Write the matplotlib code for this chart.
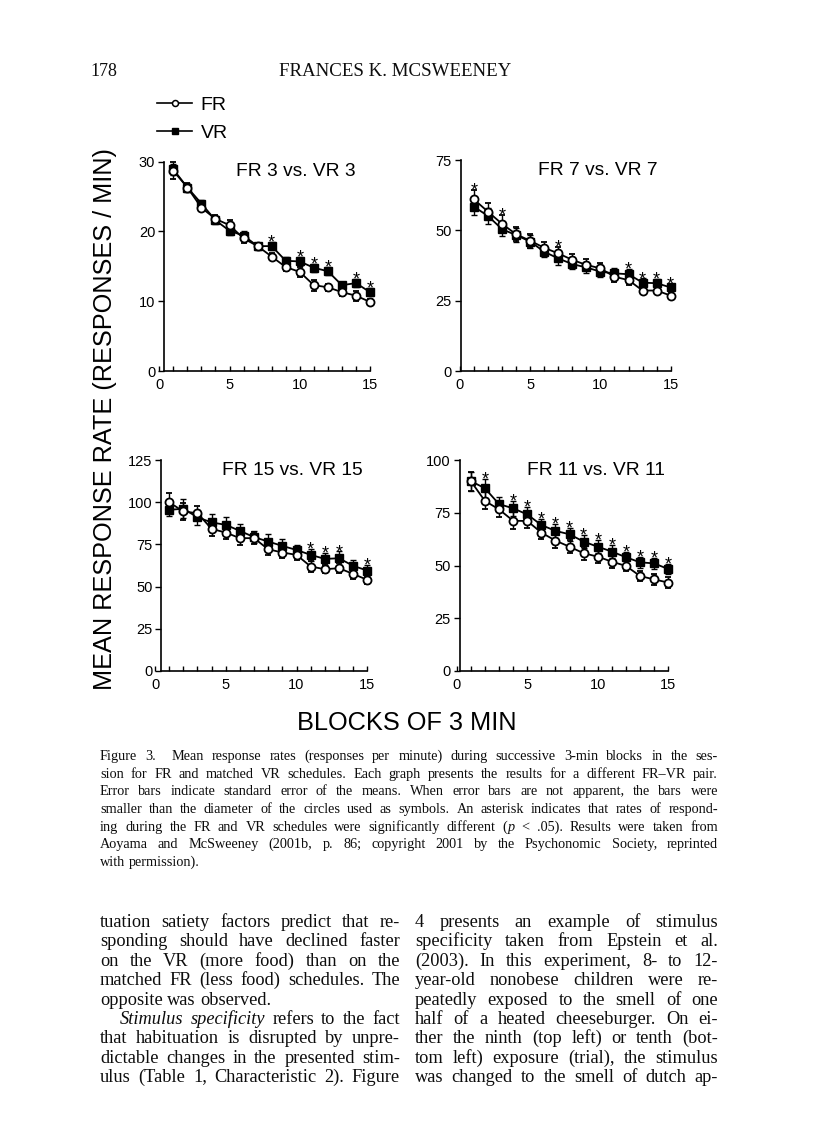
import math
import matplotlib
matplotlib.use('Agg')
import matplotlib.pyplot as plt
from matplotlib.lines import Line2D
from matplotlib.backends.backend_agg import get_hinting_flag

# ---------------- data ----------------
blocks = list(range(1, 16))

fr3 = [28.7, 26.3, 23.4, 21.8, 20.9, 19.0, 17.9, 16.4, 14.9, 14.2, 12.3, 12.0, 11.3, 10.8, 9.9]
fr3_err = [1.2, 0.6, 0.5, 0.6, 0.7, 0.6, 0.5, 0.5, 0.6, 0.7, 0.8, 0.5, 0.5, 0.7, 0.4]
vr3 = [28.9, 26.3, 24.0, 21.6, 20.1, 19.4, 17.9, 17.9, 15.8, 15.7, 14.8, 14.3, 12.3, 12.6, 11.3]
vr3_err = [0.8, 0.6, 0.5, 0.6, 0.6, 0.6, 0.5, 0.6, 0.6, 0.6, 0.6, 0.6, 0.5, 0.6, 0.6]
sig3 = [8, 10, 11, 12, 14, 15]

fr7 = [61.0, 56.6, 52.3, 48.6, 46.3, 43.8, 41.8, 39.5, 37.7, 36.5, 33.5, 32.3, 28.6, 28.6, 26.8]
fr7_err = [3.2, 3.0, 3.0, 2.5, 2.5, 2.2, 2.2, 2.0, 2.0, 2.0, 1.8, 1.8, 1.2, 1.2, 1.0]
vr7 = [58.4, 55.1, 50.4, 48.3, 46.0, 42.4, 40.0, 38.0, 36.8, 35.3, 34.7, 34.4, 31.4, 31.2, 29.7]
vr7_err = [2.8, 2.8, 2.5, 2.5, 2.3, 2.0, 2.2, 1.8, 1.8, 1.8, 1.8, 1.8, 1.5, 1.5, 1.3]
sig7 = [1, 3, 7, 12, 13, 14, 15]

fr15 = [100.0, 94.5, 93.5, 84.2, 82.0, 78.7, 78.7, 72.1, 70.2, 68.8, 61.9, 60.3, 60.9, 57.5, 54.0]
fr15_err = [5.5, 5.0, 4.5, 4.5, 4.0, 4.0, 3.5, 3.5, 3.5, 3.0, 3.0, 2.5, 3.0, 3.0, 2.5]
vr15 = [95.5, 96.1, 91.1, 88.0, 86.6, 83.0, 79.3, 76.7, 74.1, 71.7, 68.8, 66.4, 66.8, 62.3, 59.5]
vr15_err = [3.5, 5.5, 4.5, 5.0, 4.5, 4.0, 3.5, 4.5, 4.0, 3.0, 3.5, 3.5, 4.0, 3.5, 3.5]
sig15 = [11, 12, 13, 15]

fr11 = [90.0, 80.6, 76.6, 71.2, 71.1, 65.6, 61.8, 58.9, 55.8, 54.2, 51.8, 49.8, 45.0, 43.4, 41.9]
fr11_err = [4.5, 4.0, 3.5, 4.0, 3.5, 3.0, 3.5, 3.0, 3.0, 3.0, 3.0, 2.5, 2.5, 2.5, 2.5]
vr11 = [90.0, 86.6, 79.1, 77.1, 74.2, 69.2, 66.4, 64.8, 61.3, 58.9, 56.6, 53.9, 51.5, 51.0, 48.3]
vr11_err = [4.5, 4.5, 3.5, 3.5, 3.5, 3.0, 3.5, 3.0, 3.0, 3.0, 3.0, 2.5, 2.5, 2.5, 2.5]
sig11 = [2, 4, 5, 6, 7, 8, 9, 10, 11, 12, 13, 14, 15]

titles = ["FR 3 vs. VR 3", "FR 7 vs. VR 7", "FR 15 vs. VR 15", "FR 11 vs. VR 11"]
ymaxes = [30, 75, 125, 100]
ysteps = [10, 25, 25, 25]
xticks_major = [0, 5, 10, 15]
legend_labels = ["FR", "VR"]

header_page = "178"
header_author = "FRANCES K. MCSWEENEY"
ylabel_text = "MEAN RESPONSE RATE (RESPONSES / MIN)"
xlabel_text = "BLOCKS OF 3 MIN"

caption_lines = [
    "Figure 3.   Mean response rates (responses per minute) during successive 3-min blocks in the ses-",
    "sion for FR and matched VR schedules. Each graph presents the results for a different FR\u2013VR pair.",
    "Error bars indicate standard error of the means. When error bars are not apparent, the bars were",
    "smaller than the diameter of the circles used as symbols. An asterisk indicates that rates of respond-",
    "ing during the FR and VR schedules were significantly different (*p* < .05). Results were taken from",
    "Aoyama and McSweeney (2001b, p. 86; copyright 2001 by the Psychonomic Society, reprinted",
    "with permission).",
]
left_col = [
    "tuation satiety factors predict that re-",
    "sponding should have declined faster",
    "on the VR (more food) than on the",
    "matched FR (less food) schedules. The",
    "opposite was observed.",
    "*Stimulus specificity* refers to the fact",
    "that habituation is disrupted by unpre-",
    "dictable changes in the presented stim-",
    "ulus (Table 1, Characteristic 2). Figure",
]
right_col = [
    "4 presents an example of stimulus",
    "specificity taken from Epstein et al.",
    "(2003). In this experiment, 8- to 12-",
    "year-old nonobese children were re-",
    "peatedly exposed to the smell of one",
    "half of a heated cheeseburger. On ei-",
    "ther the ninth (top left) or tenth (bot-",
    "tom left) exposure (trial), the stimulus",
    "was changed to the smell of dutch ap-",
]

# ---------------- figure ----------------
W, H = 816, 1127
fig = plt.figure(figsize=(W / 100, H / 100), dpi=100)
fig.patch.set_facecolor('white')
renderer = fig.canvas.get_renderer()

SERIF = ['Liberation Serif', 'DejaVu Serif']
SANS = ['Liberation Sans', 'DejaVu Sans']
TEXT_COLOR = '#0d0d0d'


def fx(px):
    return px / W


def fy(py):
    return 1 - py / H


def snapped_row(t, row):
    """Baseline (in px from top) that makes Agg put the word's baseline on pixel row `row`."""
    try:
        font = renderer._prepare_font(t.get_fontproperties())
        font.set_text(t.get_text(), 0, flags=get_hinting_flag())
        w, h = font.get_width_height()
        d = font.get_descent()
        A = (h - d) / 64.0
        D = d / 64.0
        return row + (h // 64) - math.floor(A) - D
    except Exception:
        return row


def parse_line(s):
    tokens = s.split(' ')
    words = []
    italic = False
    extra = 0
    for tok in tokens:
        if tok == '':
            extra += 1
            continue
        segs = []
        parts = tok.split('*')
        for k, p in enumerate(parts):
            if k > 0:
                italic = not italic
            if p:
                segs.append((p, italic))
        words.append((segs, extra))
        extra = 0
    return words


def draw_line(s, x0, x1, ybase, size, justify, indent=0.0):
    words = parse_line(s)
    space = 0.25 * size * 100 / 72
    items = []
    widths = []
    for segs, extra in words:
        wt = []
        ww = 0.0
        for text, it in segs:
            t = fig.text(0, 0, text, fontsize=size, family=SERIF,
                         style='italic' if it else 'normal',
                         va='baseline', ha='left', color=TEXT_COLOR)
            w = t.get_window_extent(renderer).width
            wt.append((t, w))
            ww += w
        items.append((wt, extra))
        widths.append(ww)
    n = len(items)
    start = x0 + indent
    extras = sum(e * space for _, e in items[1:])
    total = sum(widths) + extras
    if justify and n > 1:
        gap = (x1 - start - total) / (n - 1)
    else:
        gap = space
    row = int(round(ybase))
    x = start
    for i, (wt, extra) in enumerate(items):
        if i > 0:
            x += gap + extra * space
        for t, w in wt:
            t.set_position((fx(x), fy(snapped_row(t, row))))
            x += w


# header
fig.text(fx(90), fy(76), header_page, fontsize=13, family=SERIF, ha='left',
         va='baseline', color=TEXT_COLOR)
fig.text(fx(395), fy(76), header_author, fontsize=13.6, family=SERIF, ha='center',
         va='baseline', color=TEXT_COLOR)

# panels
rects_px = [  # (x_data0, x_data15, y_top, y_bottom)
    (159.3, 370.0, 161.7, 371.0),
    (459.9, 670.7, 160.0, 371.0),
    (155.0, 367.3, 460.0, 671.0),
    (456.7, 668.3, 460.0, 671.0),
]
spine_offsets = [0.36, 0.05, 0.45, 0.2]
title_pos = [(0.93, 0.955), (0.94, 0.948), (0.98, 0.952), (0.985, 0.948)]
datasets = [
    (fr3, fr3_err, vr3, vr3_err, sig3),
    (fr7, fr7_err, vr7, vr7_err, sig7),
    (fr15, fr15_err, vr15, vr15_err, sig15),
    (fr11, fr11_err, vr11, vr11_err, sig11),
]

for i in range(4):
    x0, x1, yt, yb = rects_px[i]
    ax = fig.add_axes([fx(x0), fy(yb), (x1 - x0) / W, (yb - yt) / H])
    fr, fr_err, vr, vr_err, sig = datasets[i]
    c1 = ax.errorbar(blocks, vr, yerr=vr_err, fmt='s-', color='black', mfc='black',
                     mec='black', ms=5.2, lw=1.3, elinewidth=1.0, capsize=2.4,
                     capthick=1.0, zorder=3)
    c2 = ax.errorbar(blocks, fr, yerr=fr_err, fmt='o-', color='black', mfc='white',
                     mec='black', mew=1.3, ms=5.8, lw=1.3, elinewidth=1.0, capsize=2.4,
                     capthick=1.0, zorder=4)
    for c in (c1, c2):
        for a in c.get_children():
            a.set_clip_on(False)
    for b in sig:
        k = b - 1
        top = max(fr[k] + fr_err[k], vr[k] + vr_err[k])
        ax.annotate('*', (b, top), xytext=(0, -4.0), textcoords='offset points',
                    ha='center', va='baseline', fontsize=13, family=SANS)
    ymax = ymaxes[i]
    ax.set_xlim(0, 15)
    ax.set_ylim(0, ymax)
    ax.set_xticks(xticks_major)
    ax.set_xticks(blocks, minor=True)
    ax.set_yticks(list(range(0, ymax + 1, ysteps[i])))
    ax.spines['top'].set_visible(False)
    ax.spines['right'].set_visible(False)
    ax.spines['left'].set_position(('data', spine_offsets[i]))
    ax.spines['bottom'].set_bounds(spine_offsets[i], 15)
    for sp in ('left', 'bottom'):
        ax.spines[sp].set_linewidth(1.2)
    ax.tick_params(axis='x', which='both', direction='in', length=3.5, width=1.0, pad=5)
    ax.tick_params(axis='y', which='major', direction='out', length=4.5, width=1.0, pad=2)
    for lab in ax.get_xticklabels() + ax.get_yticklabels():
        lab.set_fontsize(10.5)
        lab.set_family(SANS)
    ax.patch.set_alpha(0)
    tx, ty = title_pos[i]
    ax.text(tx, ty, titles[i], transform=ax.transAxes, ha='right', va='center',
            fontsize=13.8, family=SANS)

# legend
handles = [
    Line2D([], [], color='black', lw=1.2, marker='o', mfc='white', mec='black', ms=4.3, mew=1.1),
    Line2D([], [], color='black', lw=1.2, marker='s', mfc='black', mec='black', ms=4.3),
]
leg = fig.legend(handles, legend_labels, loc='upper left', bbox_to_anchor=(fx(157), fy(96)),
                 frameon=False, borderpad=0, borderaxespad=0, handlelength=1.8,
                 handletextpad=0.45, labelspacing=0.55, prop={'family': SANS, 'size': 14})

# axis labels
fig.text(fx(105), fy(419), ylabel_text, rotation=90, ha='center', va='center',
         fontsize=18.2, family=SANS)
fig.text(fx(407), fy(723), xlabel_text, ha='center', va='center', fontsize=18.3, family=SANS)

# caption
cap_size = 10.3
for j, line in enumerate(caption_lines):
    draw_line(line, 100, 718, 760 + j * 17.7, cap_size, justify=(j < len(caption_lines) - 1))

# body columns
body_size = 13.2
body_dy = 19.4
for j, line in enumerate(left_col):
    draw_line(line, 100, 400, 927 + j * body_dy, body_size, justify=(j != 4),
              indent=(20 if j == 5 else 0))
for j, line in enumerate(right_col):
    draw_line(line, 415, 718, 927 + j * body_dy, body_size, justify=True)

fig.savefig('out.png', dpi=100)
